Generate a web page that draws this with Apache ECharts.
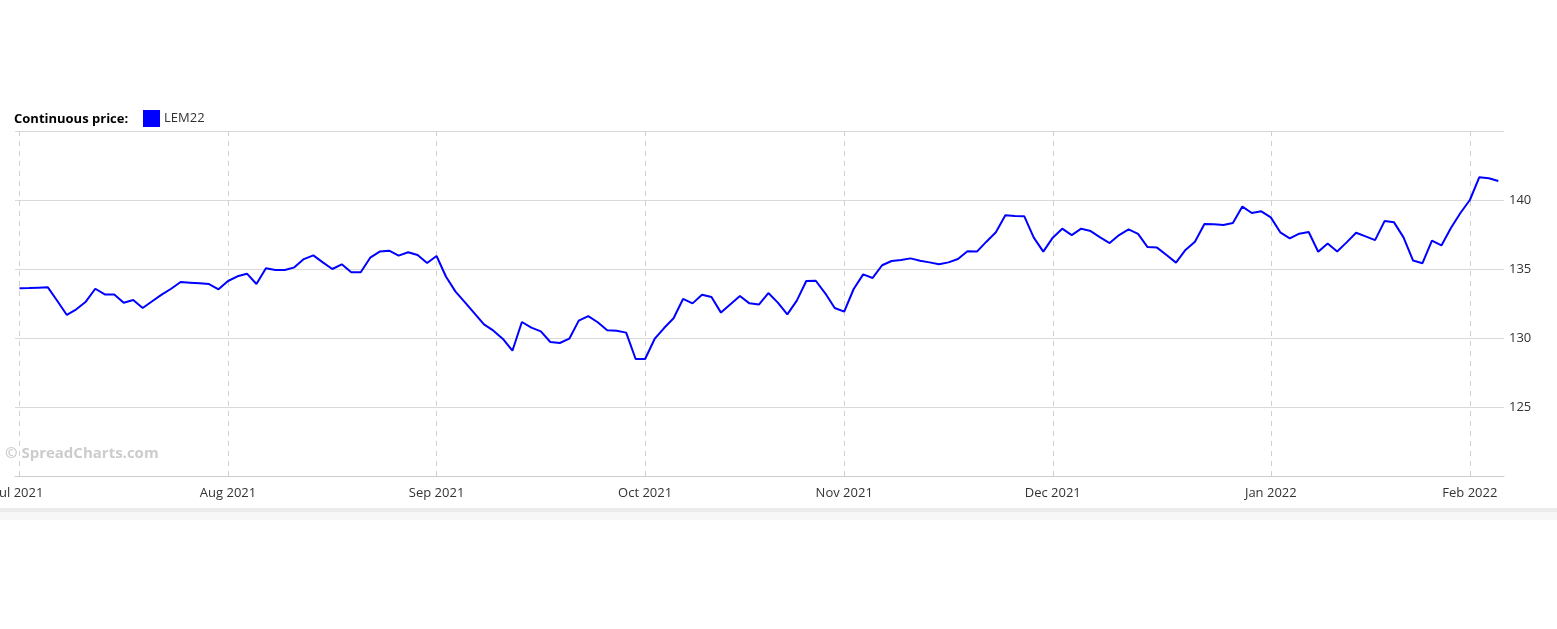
<!DOCTYPE html>
<html>
<head>
<meta charset="utf-8">
<script src="https://cdn.jsdelivr.net/npm/echarts@6/dist/echarts.min.js"></script>
<style>
html,body{margin:0;padding:0;background:#fff;}
#chart{width:1557px;height:629px;}
</style>
</head>
<body>
<div id="chart"></div>
<script>
// Trading-day series (weekdays only), starting 2021-07-01
const startDate = '2021-07-01';
const seriesName = 'LEM22';
const prices = [
  133.60,133.62,133.65,133.67,132.68,131.67,132.08,132.63,133.57,133.16,
  133.16,132.56,132.75,132.17,132.66,133.14,133.57,134.06,134.01,133.96,
  133.91,133.53,134.13,134.47,134.66,133.91,135.05,134.93,134.93,135.12,
  135.72,135.99,135.48,135.00,135.34,134.76,134.76,135.82,136.26,136.33,
  135.97,136.21,136.01,135.43,135.94,134.44,133.36,132.58,131.79,130.99,
  130.53,129.93,129.08,131.16,130.75,130.48,129.71,129.64,129.95,131.26,
  131.59,131.14,130.56,130.53,130.39,128.48,128.48,129.93,130.72,131.43,
  132.83,132.51,133.14,132.97,131.84,132.44,133.04,132.51,132.42,133.26,
  132.56,131.71,132.71,134.13,134.15,133.24,132.17,131.91,133.55,134.61,
  134.35,135.27,135.58,135.65,135.77,135.60,135.48,135.34,135.48,135.72,
  136.28,136.26,136.98,137.66,138.89,138.84,138.82,137.27,136.26,137.27,
  137.92,137.46,137.92,137.75,137.29,136.88,137.46,137.87,137.54,136.59,
  136.55,136.01,135.46,136.38,136.98,138.26,138.24,138.19,138.33,139.52,
  139.06,139.18,138.74,137.66,137.22,137.56,137.68,136.25,136.85,136.27,
  136.93,137.63,137.36,137.09,138.47,138.38,137.29,135.62,135.42,137.05,
  136.71,137.97,139.06,140.00,141.65,141.57,141.38
];
const monthNames = ['Jan','Feb','Mar','Apr','May','Jun','Jul','Aug','Sep','Oct','Nov','Dec'];

// build weekday dates
const dates = [];
(function(){
  const d = new Date(startDate + 'T00:00:00Z');
  while (dates.length < prices.length) {
    const wd = d.getUTCDay();
    if (wd !== 0 && wd !== 6) dates.push(new Date(d.getTime()));
    d.setUTCDate(d.getUTCDate() + 1);
  }
})();
const monthStarts = [];
dates.forEach((d, i) => {
  if (i === 0 || d.getUTCMonth() !== dates[i-1].getUTCMonth()) monthStarts.push(i);
});
const seriesData = prices.map((v, i) => [i, v]);

const FONT = '"Open Sans", "Noto Sans", sans-serif';
const chart = echarts.init(document.getElementById('chart'), null, {renderer: 'canvas'});
chart.setOption({
  animation: false,
  backgroundColor: '#ffffff',
  textStyle: {fontFamily: FONT},
  grid: {left: 15, right: 53, top: 131, bottom: 153, containLabel: false, outerBoundsMode: 'none'},
  legend: {
    left: 143, top: 110, padding: 0,
    icon: 'rect', itemWidth: 17, itemHeight: 17, itemGap: 4,
    textStyle: {color: '#333', fontSize: 13, fontFamily: FONT, padding: [4, 0, 0, -1]},
    data: [seriesName]
  },
  graphic: [
    {type: 'text', left: 14, top: 113, style: {text: 'Continuous price:', fill: '#000', font: 'bold 13px ' + FONT}},
    {type: 'text', left: 5, top: 446, style: {text: '© SpreadCharts.com', fill: '#cccccc', font: 'bold 15px ' + FONT}},
    {type: 'rect', left: 0, top: 508, shape: {width: 1557, height: 4}, style: {fill: '#ebebeb'}},
    {type: 'rect', left: 0, top: 512, shape: {width: 1557, height: 8}, style: {fill: '#f7f7f7'}}
  ],
  xAxis: {
    type: 'value',
    min: -0.47, max: 156.6,
    axisLine: {show: true, lineStyle: {color: '#cccccc', width: 1}},
    axisTick: {show: false, customValues: monthStarts},
    splitLine: {show: true, lineStyle: {color: '#d0d0d0', type: [5, 5], width: 1}},
    axisLabel: {
      customValues: monthStarts,
      color: '#333', fontSize: 13, margin: 11,
      hideOverlap: false,
      formatter: function (v) {
        const d = dates[Math.round(v)];
        return d ? monthNames[d.getUTCMonth()] + ' ' + d.getUTCFullYear() : '';
      }
    }
  },
  yAxis: {
    type: 'value', position: 'right',
    min: 120, max: 145, interval: 5,
    axisLine: {show: false}, axisTick: {show: false},
    splitLine: {show: true, lineStyle: {color: '#d9d9d9', width: 1}},
    axisLabel: {
      color: '#333', fontSize: 13, margin: 5,
      showMinLabel: false, showMaxLabel: false
    }
  },
  series: [{
    name: seriesName, type: 'line',
    data: seriesData,
    showSymbol: false, symbol: 'none',
    lineStyle: {color: '#0000ff', width: 2},
    itemStyle: {color: '#0000ff'}
  }]
});
</script>
</body>
</html>
